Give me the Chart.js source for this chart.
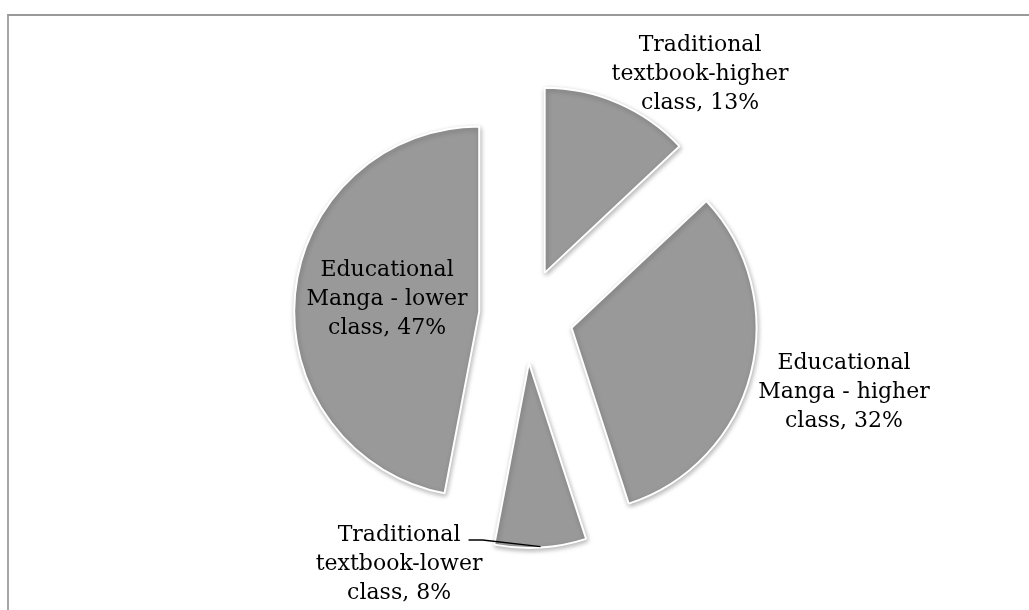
<!DOCTYPE html>
<html>
<head>
<meta charset="utf-8">
<script src="https://cdn.jsdelivr.net/npm/chart.js@4.4.1/dist/chart.umd.min.js"></script>
<style>
  html, body { margin: 0; padding: 0; background: #fff; }
  #wrap { position: relative; width: 1029px; height: 610px; overflow: hidden; }
  #frame { position: absolute; left: 7px; top: 14px; width: 1100px; height: 700px;
           border-top: 2px solid #999; border-left: 2px solid #a6a6a6; box-sizing: border-box; }
  canvas { position: absolute; left: 0; top: 0; }
</style>
</head>
<body>
<div id="wrap">
  <div id="frame"></div>
  <canvas id="c" width="1029" height="610"></canvas>
</div>
<script>
// ---- data ----
const categories = [
  "Traditional textbook-higher class",
  "Educational Manga - higher class",
  "Traditional textbook-lower class",
  "Educational Manga - lower class"
];
const labelLines = [
  ["Traditional", "textbook-higher", "class, 13%"],
  ["Educational", "Manga - higher", "class, 32%"],
  ["Traditional", "textbook-lower", "class, 8%"],
  ["Educational", "Manga - lower", "class, 47%"]
];
const shares = [13, 32, 8, 47];

// ---- styling / placement (not data) ----
const EXPLODE = 47;
const RADIUS = 185;
const FONT = '22px "DejaVu Serif", "Liberation Serif", serif';
const LINE_H = 29;
// label anchor (middle line baseline) relative to pie centre, in radius units
const labelPlace = [[0.941, -1.278], [1.719, 0.443], [-0.686, 1.373], [-0.751, -0.059]];
const leaderFor = [false, false, true, false];

function explodeVec(el) {
  const mid = (el.startAngle + el.endAngle) / 2;
  return [Math.cos(mid) * EXPLODE, Math.sin(mid) * EXPLODE, mid];
}

const explodePlugin = {
  id: 'explode',
  beforeDatasetsDraw(chart) {
    const meta = chart.getDatasetMeta(0);
    meta.data.forEach(el => {
      if (el._patched) return;
      el._patched = true;
      el.draw = function (ctx) {
        const [dx, dy] = explodeVec(this);
        ctx.save();
        ctx.translate(dx, dy);
        ctx.shadowColor = 'rgba(0,0,0,0.28)';
        ctx.shadowBlur = 5;
        ctx.shadowOffsetX = 1;
        ctx.shadowOffsetY = 2;
        Chart.ArcElement.prototype.draw.call(this, ctx);
        ctx.restore();
      };
    });
  },
  afterDatasetsDraw(chart) {
    const ctx = chart.ctx;
    const meta = chart.getDatasetMeta(0);
    ctx.save();
    ctx.font = FONT;
    ctx.fillStyle = '#000';
    ctx.textAlign = 'center';
    ctx.textBaseline = 'alphabetic';
    meta.data.forEach((el, i) => {
      const r = el.outerRadius;
      const ax = el.x + labelPlace[i][0] * r;
      const ay = el.y + labelPlace[i][1] * r;
      const lines = labelLines[i];
      lines.forEach((t, k) => {
        ctx.fillText(t, ax, ay + (k - 1) * LINE_H);
      });
      if (leaderFor[i]) {
        const w = ctx.measureText(lines[0]).width;
        const sx = ax + w / 2 + 8;
        const sy = ay - LINE_H - 1;
        const [dx, dy, mid] = explodeVec(el);
        const ex = el.x + dx + Math.cos(mid) * (r - 1);
        const ey = el.y + dy + Math.sin(mid) * (r - 1);
        ctx.beginPath();
        ctx.strokeStyle = '#000';
        ctx.lineWidth = 1.3;
        ctx.moveTo(sx, sy);
        ctx.lineTo(sx + 14, sy);
        ctx.lineTo(ex, ey);
        ctx.stroke();
      }
    });
    ctx.restore();
  }
};

new Chart(document.getElementById('c'), {
  type: 'pie',
  data: {
    labels: categories,
    datasets: [{
      data: shares,
      backgroundColor: '#999999',
      borderColor: '#ffffff',
      borderWidth: 2,
      offset: 0
    }]
  },
  options: {
    responsive: false,
    animation: false,
    radius: RADIUS,
    layout: { padding: { left: 23, top: 22, right: 0, bottom: 0 } },
    plugins: { legend: { display: false }, tooltip: { enabled: false } },
    events: []
  },
  plugins: [explodePlugin]
});
</script>
</body>
</html>
